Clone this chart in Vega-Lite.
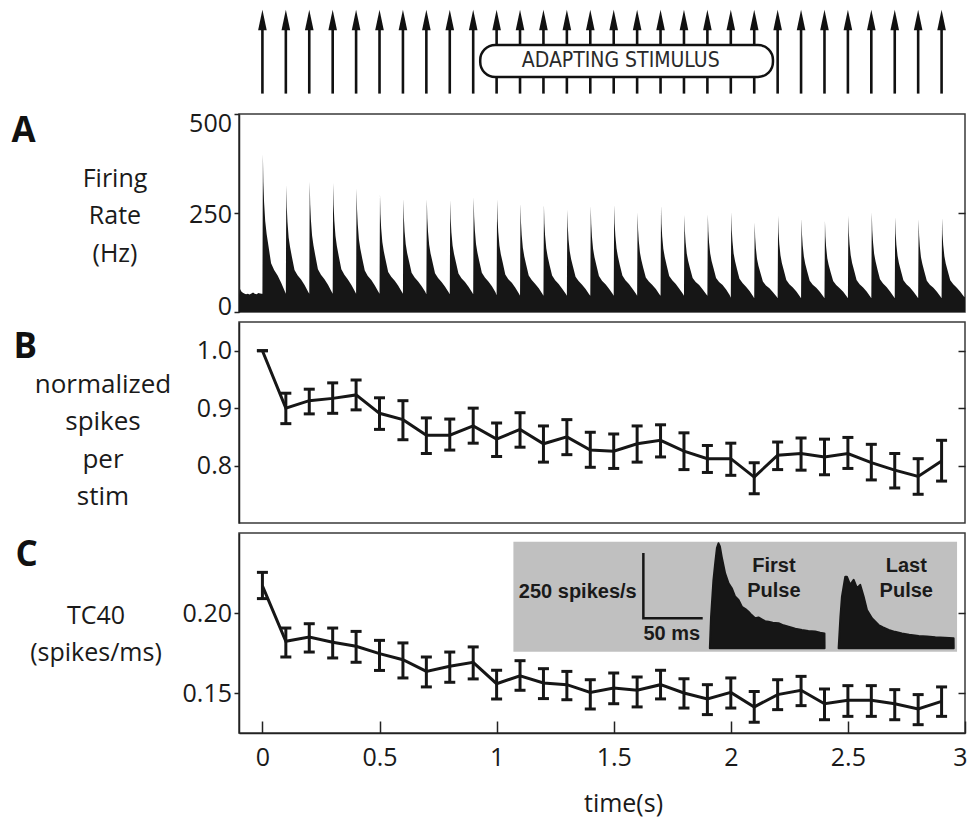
{
  "$schema": "https://vega.github.io/schema/vega-lite/v6.json",
  "background": "white",
  "padding": {"left": 10, "top": 0, "right": 0, "bottom": 6},
  "spacing": 10,
  "bounds": "flush",
  "config": {
    "view": {"stroke": "#3a3a3a", "strokeWidth": 1.5},
    "font": "Open Sans",
    "axis": {
      "grid": false,
      "labelFlush": false,
      "domainColor": "#222",
      "domainWidth": 1.5,
      "tickColor": "#222",
      "tickWidth": 1.5,
      "labelFont": "Open Sans",
      "labelFontSize": 25,
      "labelColor": "#1a1a1a",
      "titleFont": "Open Sans",
      "titleFontSize": 25,
      "titleFontWeight": "normal",
      "titleColor": "#1a1a1a"
    },
    "axisY": {
      "tickSize": 5,
      "labelPadding": 2.5,
      "titleAngle": 0,
      "titleAlign": "center",
      "titleBaseline": "alphabetic",
      "titleLineHeight": 37.5
    },
    "title": {
      "font": "Open Sans",
      "fontSize": 35,
      "fontWeight": "bold",
      "color": "#111",
      "anchor": "start",
      "frame": "group",
      "offset": 0
    }
  },
  "datasets": {
    "stimuli": [
      {"t": 0}, {"t": 0.1}, {"t": 0.2}, {"t": 0.3}, {"t": 0.4}, {"t": 0.5}, {"t": 0.6}, {"t": 0.7}, {"t": 0.8}, {"t": 0.9},
      {"t": 1.0}, {"t": 1.1}, {"t": 1.2}, {"t": 1.3}, {"t": 1.4}, {"t": 1.5}, {"t": 1.6}, {"t": 1.7}, {"t": 1.8}, {"t": 1.9},
      {"t": 2.0}, {"t": 2.1}, {"t": 2.2}, {"t": 2.3}, {"t": 2.4}, {"t": 2.5}, {"t": 2.6}, {"t": 2.7}, {"t": 2.8}, {"t": 2.9}
    ],
    "adapting": [{"label": "ADAPTING STIMULUS", "start": 0.93, "end": 2.18}],
    "psth": [
      {"t": -0.1, "hz": 42}, {"t": -0.097, "hz": 48}, {"t": -0.094, "hz": 58}, {"t": -0.09, "hz": 52}, {"t": -0.085, "hz": 49}, {"t": -0.078, "hz": 47}, {"t": -0.07, "hz": 45}, {"t": -0.062, "hz": 46}, {"t": -0.055, "hz": 44}, {"t": -0.047, "hz": 47}, {"t": -0.04, "hz": 49}, {"t": -0.033, "hz": 46}, {"t": -0.025, "hz": 45}, {"t": -0.017, "hz": 48}, {"t": -0.01, "hz": 47}, {"t": -0.003, "hz": 46},
      {"t": 0, "hz": 46}, {"t": 0.002, "hz": 398}, {"t": 0.004, "hz": 328}, {"t": 0.007, "hz": 278}, {"t": 0.012, "hz": 229}, {"t": 0.018, "hz": 197}, {"t": 0.026, "hz": 166}, {"t": 0.037, "hz": 123}, {"t": 0.05, "hz": 106}, {"t": 0.065, "hz": 92}, {"t": 0.08, "hz": 74}, {"t": 0.095, "hz": 53},
      {"t": 0.1, "hz": 46}, {"t": 0.102, "hz": 320}, {"t": 0.104, "hz": 265}, {"t": 0.107, "hz": 227}, {"t": 0.112, "hz": 188}, {"t": 0.118, "hz": 164}, {"t": 0.126, "hz": 139}, {"t": 0.137, "hz": 106}, {"t": 0.15, "hz": 93}, {"t": 0.165, "hz": 82}, {"t": 0.18, "hz": 68}, {"t": 0.195, "hz": 51},
      {"t": 0.2, "hz": 46}, {"t": 0.202, "hz": 329}, {"t": 0.204, "hz": 272}, {"t": 0.207, "hz": 233}, {"t": 0.212, "hz": 193}, {"t": 0.218, "hz": 168}, {"t": 0.226, "hz": 142}, {"t": 0.237, "hz": 108}, {"t": 0.25, "hz": 94}, {"t": 0.265, "hz": 83}, {"t": 0.28, "hz": 69}, {"t": 0.295, "hz": 52},
      {"t": 0.3, "hz": 46}, {"t": 0.302, "hz": 326}, {"t": 0.304, "hz": 270}, {"t": 0.307, "hz": 231}, {"t": 0.312, "hz": 192}, {"t": 0.318, "hz": 166}, {"t": 0.326, "hz": 141}, {"t": 0.337, "hz": 108}, {"t": 0.35, "hz": 94}, {"t": 0.365, "hz": 82}, {"t": 0.38, "hz": 68}, {"t": 0.395, "hz": 52},
      {"t": 0.4, "hz": 46}, {"t": 0.402, "hz": 312}, {"t": 0.404, "hz": 259}, {"t": 0.407, "hz": 222}, {"t": 0.412, "hz": 184}, {"t": 0.418, "hz": 160}, {"t": 0.426, "hz": 136}, {"t": 0.437, "hz": 105}, {"t": 0.45, "hz": 91}, {"t": 0.465, "hz": 81}, {"t": 0.48, "hz": 67}, {"t": 0.495, "hz": 51},
      {"t": 0.5, "hz": 46}, {"t": 0.502, "hz": 297}, {"t": 0.504, "hz": 247}, {"t": 0.507, "hz": 212}, {"t": 0.512, "hz": 177}, {"t": 0.518, "hz": 154}, {"t": 0.526, "hz": 131}, {"t": 0.537, "hz": 101}, {"t": 0.55, "hz": 89}, {"t": 0.565, "hz": 79}, {"t": 0.58, "hz": 66}, {"t": 0.595, "hz": 51},
      {"t": 0.6, "hz": 46}, {"t": 0.602, "hz": 286}, {"t": 0.604, "hz": 238}, {"t": 0.607, "hz": 204}, {"t": 0.612, "hz": 171}, {"t": 0.618, "hz": 149}, {"t": 0.626, "hz": 128}, {"t": 0.637, "hz": 99}, {"t": 0.65, "hz": 87}, {"t": 0.665, "hz": 77}, {"t": 0.68, "hz": 65}, {"t": 0.695, "hz": 51},
      {"t": 0.7, "hz": 45}, {"t": 0.702, "hz": 285}, {"t": 0.704, "hz": 237}, {"t": 0.707, "hz": 203}, {"t": 0.712, "hz": 170}, {"t": 0.718, "hz": 148}, {"t": 0.726, "hz": 127}, {"t": 0.737, "hz": 98}, {"t": 0.75, "hz": 86}, {"t": 0.765, "hz": 76}, {"t": 0.78, "hz": 64}, {"t": 0.795, "hz": 50},
      {"t": 0.8, "hz": 45}, {"t": 0.802, "hz": 282}, {"t": 0.804, "hz": 235}, {"t": 0.807, "hz": 201}, {"t": 0.812, "hz": 168}, {"t": 0.818, "hz": 147}, {"t": 0.826, "hz": 126}, {"t": 0.837, "hz": 97}, {"t": 0.85, "hz": 85}, {"t": 0.865, "hz": 76}, {"t": 0.88, "hz": 64}, {"t": 0.895, "hz": 50},
      {"t": 0.9, "hz": 45}, {"t": 0.902, "hz": 290}, {"t": 0.904, "hz": 241}, {"t": 0.907, "hz": 207}, {"t": 0.912, "hz": 172}, {"t": 0.918, "hz": 150}, {"t": 0.926, "hz": 128}, {"t": 0.937, "hz": 99}, {"t": 0.95, "hz": 87}, {"t": 0.965, "hz": 77}, {"t": 0.98, "hz": 65}, {"t": 0.995, "hz": 50},
      {"t": 1.0, "hz": 42}, {"t": 1.002, "hz": 285}, {"t": 1.004, "hz": 236}, {"t": 1.007, "hz": 202}, {"t": 1.012, "hz": 168}, {"t": 1.018, "hz": 146}, {"t": 1.026, "hz": 125}, {"t": 1.037, "hz": 95}, {"t": 1.05, "hz": 83}, {"t": 1.065, "hz": 74}, {"t": 1.08, "hz": 61}, {"t": 1.095, "hz": 47},
      {"t": 1.1, "hz": 41}, {"t": 1.102, "hz": 274}, {"t": 1.104, "hz": 227}, {"t": 1.107, "hz": 195}, {"t": 1.112, "hz": 162}, {"t": 1.118, "hz": 141}, {"t": 1.126, "hz": 120}, {"t": 1.137, "hz": 92}, {"t": 1.15, "hz": 81}, {"t": 1.165, "hz": 71}, {"t": 1.18, "hz": 60}, {"t": 1.195, "hz": 46},
      {"t": 1.2, "hz": 41}, {"t": 1.202, "hz": 271}, {"t": 1.204, "hz": 225}, {"t": 1.207, "hz": 193}, {"t": 1.212, "hz": 161}, {"t": 1.218, "hz": 140}, {"t": 1.226, "hz": 119}, {"t": 1.237, "hz": 92}, {"t": 1.25, "hz": 80}, {"t": 1.265, "hz": 71}, {"t": 1.28, "hz": 59}, {"t": 1.295, "hz": 46},
      {"t": 1.3, "hz": 41}, {"t": 1.302, "hz": 258}, {"t": 1.304, "hz": 215}, {"t": 1.307, "hz": 184}, {"t": 1.312, "hz": 154}, {"t": 1.318, "hz": 134}, {"t": 1.326, "hz": 115}, {"t": 1.337, "hz": 89}, {"t": 1.35, "hz": 78}, {"t": 1.365, "hz": 69}, {"t": 1.38, "hz": 58}, {"t": 1.395, "hz": 45},
      {"t": 1.4, "hz": 41}, {"t": 1.402, "hz": 267}, {"t": 1.404, "hz": 222}, {"t": 1.407, "hz": 190}, {"t": 1.412, "hz": 159}, {"t": 1.418, "hz": 138}, {"t": 1.426, "hz": 118}, {"t": 1.437, "hz": 91}, {"t": 1.45, "hz": 79}, {"t": 1.465, "hz": 70}, {"t": 1.48, "hz": 59}, {"t": 1.495, "hz": 46},
      {"t": 1.5, "hz": 41}, {"t": 1.502, "hz": 271}, {"t": 1.504, "hz": 225}, {"t": 1.507, "hz": 193}, {"t": 1.512, "hz": 161}, {"t": 1.518, "hz": 140}, {"t": 1.526, "hz": 119}, {"t": 1.537, "hz": 92}, {"t": 1.55, "hz": 80}, {"t": 1.565, "hz": 71}, {"t": 1.58, "hz": 59}, {"t": 1.595, "hz": 46},
      {"t": 1.6, "hz": 41}, {"t": 1.602, "hz": 251}, {"t": 1.604, "hz": 209}, {"t": 1.607, "hz": 180}, {"t": 1.612, "hz": 150}, {"t": 1.618, "hz": 131}, {"t": 1.626, "hz": 112}, {"t": 1.637, "hz": 87}, {"t": 1.65, "hz": 77}, {"t": 1.665, "hz": 68}, {"t": 1.68, "hz": 58}, {"t": 1.695, "hz": 45},
      {"t": 1.7, "hz": 41}, {"t": 1.702, "hz": 268}, {"t": 1.704, "hz": 223}, {"t": 1.707, "hz": 191}, {"t": 1.712, "hz": 159}, {"t": 1.718, "hz": 139}, {"t": 1.726, "hz": 118}, {"t": 1.737, "hz": 91}, {"t": 1.75, "hz": 80}, {"t": 1.765, "hz": 71}, {"t": 1.78, "hz": 59}, {"t": 1.795, "hz": 46},
      {"t": 1.8, "hz": 41}, {"t": 1.802, "hz": 245}, {"t": 1.804, "hz": 204}, {"t": 1.807, "hz": 176}, {"t": 1.812, "hz": 147}, {"t": 1.818, "hz": 129}, {"t": 1.826, "hz": 110}, {"t": 1.837, "hz": 86}, {"t": 1.85, "hz": 76}, {"t": 1.865, "hz": 68}, {"t": 1.88, "hz": 57}, {"t": 1.895, "hz": 45},
      {"t": 1.9, "hz": 41}, {"t": 1.902, "hz": 246}, {"t": 1.904, "hz": 205}, {"t": 1.907, "hz": 176}, {"t": 1.912, "hz": 148}, {"t": 1.918, "hz": 129}, {"t": 1.926, "hz": 111}, {"t": 1.937, "hz": 86}, {"t": 1.95, "hz": 76}, {"t": 1.965, "hz": 68}, {"t": 1.98, "hz": 57}, {"t": 1.995, "hz": 43},
      {"t": 2.0, "hz": 36}, {"t": 2.002, "hz": 252}, {"t": 2.004, "hz": 209}, {"t": 2.007, "hz": 179}, {"t": 2.012, "hz": 148}, {"t": 2.018, "hz": 129}, {"t": 2.026, "hz": 109}, {"t": 2.037, "hz": 84}, {"t": 2.05, "hz": 73}, {"t": 2.065, "hz": 64}, {"t": 2.08, "hz": 53}, {"t": 2.095, "hz": 40},
      {"t": 2.1, "hz": 35}, {"t": 2.102, "hz": 226}, {"t": 2.104, "hz": 188}, {"t": 2.107, "hz": 161}, {"t": 2.112, "hz": 134}, {"t": 2.118, "hz": 117}, {"t": 2.126, "hz": 100}, {"t": 2.137, "hz": 77}, {"t": 2.15, "hz": 67}, {"t": 2.165, "hz": 60}, {"t": 2.18, "hz": 50}, {"t": 2.195, "hz": 39},
      {"t": 2.2, "hz": 35}, {"t": 2.202, "hz": 243}, {"t": 2.204, "hz": 201}, {"t": 2.207, "hz": 172}, {"t": 2.212, "hz": 143}, {"t": 2.218, "hz": 124}, {"t": 2.226, "hz": 106}, {"t": 2.237, "hz": 81}, {"t": 2.25, "hz": 70}, {"t": 2.265, "hz": 62}, {"t": 2.28, "hz": 52}, {"t": 2.295, "hz": 39},
      {"t": 2.3, "hz": 35}, {"t": 2.302, "hz": 236}, {"t": 2.304, "hz": 196}, {"t": 2.307, "hz": 168}, {"t": 2.312, "hz": 140}, {"t": 2.318, "hz": 121}, {"t": 2.326, "hz": 103}, {"t": 2.337, "hz": 79}, {"t": 2.35, "hz": 69}, {"t": 2.365, "hz": 61}, {"t": 2.38, "hz": 51}, {"t": 2.395, "hz": 39},
      {"t": 2.4, "hz": 35}, {"t": 2.402, "hz": 230}, {"t": 2.404, "hz": 191}, {"t": 2.407, "hz": 164}, {"t": 2.412, "hz": 136}, {"t": 2.418, "hz": 119}, {"t": 2.426, "hz": 101}, {"t": 2.437, "hz": 78}, {"t": 2.45, "hz": 68}, {"t": 2.465, "hz": 60}, {"t": 2.48, "hz": 51}, {"t": 2.495, "hz": 39},
      {"t": 2.5, "hz": 35}, {"t": 2.502, "hz": 243}, {"t": 2.504, "hz": 201}, {"t": 2.507, "hz": 172}, {"t": 2.512, "hz": 143}, {"t": 2.518, "hz": 124}, {"t": 2.526, "hz": 106}, {"t": 2.537, "hz": 81}, {"t": 2.55, "hz": 70}, {"t": 2.565, "hz": 62}, {"t": 2.58, "hz": 52}, {"t": 2.595, "hz": 39},
      {"t": 2.6, "hz": 35}, {"t": 2.602, "hz": 251}, {"t": 2.604, "hz": 208}, {"t": 2.607, "hz": 178}, {"t": 2.612, "hz": 147}, {"t": 2.618, "hz": 128}, {"t": 2.626, "hz": 108}, {"t": 2.637, "hz": 83}, {"t": 2.65, "hz": 72}, {"t": 2.665, "hz": 63}, {"t": 2.68, "hz": 52}, {"t": 2.695, "hz": 39},
      {"t": 2.7, "hz": 35}, {"t": 2.702, "hz": 240}, {"t": 2.704, "hz": 199}, {"t": 2.707, "hz": 170}, {"t": 2.712, "hz": 142}, {"t": 2.718, "hz": 123}, {"t": 2.726, "hz": 105}, {"t": 2.737, "hz": 80}, {"t": 2.75, "hz": 70}, {"t": 2.765, "hz": 62}, {"t": 2.78, "hz": 51}, {"t": 2.795, "hz": 39},
      {"t": 2.8, "hz": 35}, {"t": 2.802, "hz": 234}, {"t": 2.804, "hz": 194}, {"t": 2.807, "hz": 166}, {"t": 2.812, "hz": 138}, {"t": 2.818, "hz": 121}, {"t": 2.826, "hz": 103}, {"t": 2.837, "hz": 79}, {"t": 2.85, "hz": 69}, {"t": 2.865, "hz": 61}, {"t": 2.88, "hz": 51}, {"t": 2.895, "hz": 39},
      {"t": 2.9, "hz": 35}, {"t": 2.902, "hz": 238}, {"t": 2.904, "hz": 197}, {"t": 2.907, "hz": 169}, {"t": 2.912, "hz": 141}, {"t": 2.918, "hz": 122}, {"t": 2.926, "hz": 104}, {"t": 2.937, "hz": 80}, {"t": 2.95, "hz": 70}, {"t": 2.965, "hz": 61}, {"t": 2.98, "hz": 51}, {"t": 2.995, "hz": 39},
      {"t": 3.0, "hz": 37}
    ],
    "spikes": [
      {"t": 0, "m": 1.0, "lo": 1.0, "hi": 1.0},
      {"t": 0.1, "m": 0.9, "lo": 0.873, "hi": 0.926},
      {"t": 0.2, "m": 0.913, "lo": 0.89, "hi": 0.933},
      {"t": 0.3, "m": 0.917, "lo": 0.891, "hi": 0.944},
      {"t": 0.4, "m": 0.923, "lo": 0.897, "hi": 0.949},
      {"t": 0.5, "m": 0.891, "lo": 0.863, "hi": 0.918},
      {"t": 0.6, "m": 0.88, "lo": 0.845, "hi": 0.913},
      {"t": 0.7, "m": 0.853, "lo": 0.821, "hi": 0.883},
      {"t": 0.8, "m": 0.853, "lo": 0.827, "hi": 0.881},
      {"t": 0.9, "m": 0.869, "lo": 0.839, "hi": 0.9},
      {"t": 1.0, "m": 0.846, "lo": 0.816, "hi": 0.874},
      {"t": 1.1, "m": 0.863, "lo": 0.832, "hi": 0.892},
      {"t": 1.2, "m": 0.838, "lo": 0.806, "hi": 0.869},
      {"t": 1.3, "m": 0.85, "lo": 0.819, "hi": 0.88},
      {"t": 1.4, "m": 0.827, "lo": 0.797, "hi": 0.858},
      {"t": 1.5, "m": 0.825, "lo": 0.795, "hi": 0.855},
      {"t": 1.6, "m": 0.838, "lo": 0.806, "hi": 0.869},
      {"t": 1.7, "m": 0.844, "lo": 0.815, "hi": 0.871},
      {"t": 1.8, "m": 0.825, "lo": 0.793, "hi": 0.857},
      {"t": 1.9, "m": 0.812, "lo": 0.788, "hi": 0.835},
      {"t": 2.0, "m": 0.812, "lo": 0.783, "hi": 0.839},
      {"t": 2.1, "m": 0.78, "lo": 0.751, "hi": 0.805},
      {"t": 2.2, "m": 0.818, "lo": 0.793, "hi": 0.841},
      {"t": 2.3, "m": 0.821, "lo": 0.792, "hi": 0.848},
      {"t": 2.4, "m": 0.815, "lo": 0.784, "hi": 0.846},
      {"t": 2.5, "m": 0.821, "lo": 0.795, "hi": 0.849},
      {"t": 2.6, "m": 0.805, "lo": 0.775, "hi": 0.837},
      {"t": 2.7, "m": 0.792, "lo": 0.761, "hi": 0.821},
      {"t": 2.8, "m": 0.781, "lo": 0.75, "hi": 0.812},
      {"t": 2.9, "m": 0.808, "lo": 0.773, "hi": 0.844}
    ],
    "tc40": [
      {"t": 0, "m": 0.217, "lo": 0.209, "hi": 0.2254},
      {"t": 0.1, "m": 0.1823, "lo": 0.1725, "hi": 0.1906},
      {"t": 0.2, "m": 0.185, "lo": 0.1756, "hi": 0.1933},
      {"t": 0.3, "m": 0.1817, "lo": 0.1719, "hi": 0.1906},
      {"t": 0.4, "m": 0.1792, "lo": 0.1692, "hi": 0.1885},
      {"t": 0.5, "m": 0.1746, "lo": 0.1641, "hi": 0.1829},
      {"t": 0.6, "m": 0.1708, "lo": 0.1594, "hi": 0.1813},
      {"t": 0.7, "m": 0.1635, "lo": 0.1538, "hi": 0.1725},
      {"t": 0.8, "m": 0.1667, "lo": 0.1567, "hi": 0.1756},
      {"t": 0.9, "m": 0.1692, "lo": 0.1588, "hi": 0.1788},
      {"t": 1.0, "m": 0.1558, "lo": 0.1463, "hi": 0.1642},
      {"t": 1.1, "m": 0.1608, "lo": 0.1517, "hi": 0.1702},
      {"t": 1.2, "m": 0.1563, "lo": 0.1465, "hi": 0.1652},
      {"t": 1.3, "m": 0.1552, "lo": 0.1458, "hi": 0.1635},
      {"t": 1.4, "m": 0.1504, "lo": 0.14, "hi": 0.1583},
      {"t": 1.5, "m": 0.1531, "lo": 0.1433, "hi": 0.1625},
      {"t": 1.6, "m": 0.1517, "lo": 0.1413, "hi": 0.16},
      {"t": 1.7, "m": 0.1552, "lo": 0.1463, "hi": 0.1642},
      {"t": 1.8, "m": 0.15, "lo": 0.1406, "hi": 0.1589},
      {"t": 1.9, "m": 0.1463, "lo": 0.1365, "hi": 0.1552},
      {"t": 2.0, "m": 0.1504, "lo": 0.1406, "hi": 0.1594},
      {"t": 2.1, "m": 0.1413, "lo": 0.1317, "hi": 0.151},
      {"t": 2.2, "m": 0.149, "lo": 0.1396, "hi": 0.1583},
      {"t": 2.3, "m": 0.1517, "lo": 0.1421, "hi": 0.1604},
      {"t": 2.4, "m": 0.1433, "lo": 0.1333, "hi": 0.1525},
      {"t": 2.5, "m": 0.1454, "lo": 0.1354, "hi": 0.1546},
      {"t": 2.6, "m": 0.1454, "lo": 0.1354, "hi": 0.1546},
      {"t": 2.7, "m": 0.1433, "lo": 0.1333, "hi": 0.1521},
      {"t": 2.8, "m": 0.14, "lo": 0.1302, "hi": 0.149},
      {"t": 2.9, "m": 0.1448, "lo": 0.1354, "hi": 0.1538}
    ],
    "pulses": [
      {"pulse": "first", "ms": 0, "rate": 0}, {"pulse": "first", "ms": 1, "rate": 120}, {"pulse": "first", "ms": 3, "rate": 260}, {"pulse": "first", "ms": 4.5, "rate": 326}, {"pulse": "first", "ms": 6, "rate": 385}, {"pulse": "first", "ms": 7.3, "rate": 402}, {"pulse": "first", "ms": 8.5, "rate": 390}, {"pulse": "first", "ms": 10, "rate": 351}, {"pulse": "first", "ms": 12.9, "rate": 287}, {"pulse": "first", "ms": 15.8, "rate": 249}, {"pulse": "first", "ms": 18.5, "rate": 230}, {"pulse": "first", "ms": 21.3, "rate": 198}, {"pulse": "first", "ms": 24.2, "rate": 185}, {"pulse": "first", "ms": 27, "rate": 159}, {"pulse": "first", "ms": 30, "rate": 150}, {"pulse": "first", "ms": 32.6, "rate": 140}, {"pulse": "first", "ms": 35, "rate": 128}, {"pulse": "first", "ms": 38.2, "rate": 115}, {"pulse": "first", "ms": 41, "rate": 118}, {"pulse": "first", "ms": 43.8, "rate": 111}, {"pulse": "first", "ms": 46.5, "rate": 104}, {"pulse": "first", "ms": 49.5, "rate": 102}, {"pulse": "first", "ms": 53, "rate": 98}, {"pulse": "first", "ms": 57.9, "rate": 96}, {"pulse": "first", "ms": 62, "rate": 88}, {"pulse": "first", "ms": 66.3, "rate": 83}, {"pulse": "first", "ms": 72, "rate": 75}, {"pulse": "first", "ms": 77.6, "rate": 70}, {"pulse": "first", "ms": 83, "rate": 66}, {"pulse": "first", "ms": 88.8, "rate": 64}, {"pulse": "first", "ms": 93, "rate": 60}, {"pulse": "first", "ms": 96.6, "rate": 57}, {"pulse": "first", "ms": 96.7, "rate": 0},
      {"pulse": "last", "ms": 108.5, "rate": 0}, {"pulse": "last", "ms": 110, "rate": 120}, {"pulse": "last", "ms": 111.3, "rate": 198}, {"pulse": "last", "ms": 114.1, "rate": 274}, {"pulse": "last", "ms": 115.5, "rate": 274}, {"pulse": "last", "ms": 118.3, "rate": 243}, {"pulse": "last", "ms": 121.2, "rate": 262}, {"pulse": "last", "ms": 124, "rate": 230}, {"pulse": "last", "ms": 126.7, "rate": 243}, {"pulse": "last", "ms": 129.6, "rate": 198}, {"pulse": "last", "ms": 132.4, "rate": 147}, {"pulse": "last", "ms": 136.6, "rate": 115}, {"pulse": "last", "ms": 142.2, "rate": 89}, {"pulse": "last", "ms": 146, "rate": 80}, {"pulse": "last", "ms": 150.7, "rate": 70}, {"pulse": "last", "ms": 156, "rate": 63}, {"pulse": "last", "ms": 161.9, "rate": 57}, {"pulse": "last", "ms": 168, "rate": 52}, {"pulse": "last", "ms": 176, "rate": 47}, {"pulse": "last", "ms": 183, "rate": 45}, {"pulse": "last", "ms": 190, "rate": 42}, {"pulse": "last", "ms": 198, "rate": 40}, {"pulse": "last", "ms": 205.4, "rate": 38}, {"pulse": "last", "ms": 205.5, "rate": 0}
    ],
    "scalebar": [
      {"i": 0, "ms": -56, "rate": 365},
      {"i": 1, "ms": -56, "rate": 115},
      {"i": 2, "ms": -6, "rate": 115}
    ],
    "insetLabelsRight": [
      {"label": "250 spikes/s", "ms": -61.6, "rate": 191}
    ],
    "insetLabelsCenter": [
      {"label": "50 ms", "ms": -32, "rate": 32},
      {"label": "First\nPulse", "ms": 54, "rate": 293},
      {"label": "Last\nPulse", "ms": 165.5, "rate": 293}
    ],
    "insetFrame": [
      {"ms0": -165.5, "ms1": 208.3, "rate0": -13, "rate1": 408}
    ]
  },
  "vconcat": [
    {
      "width": 726,
      "height": 104,
      "view": {"stroke": null},
      "layer": [
        {
          "data": {"name": "stimuli"},
          "mark": {"type": "rule", "strokeWidth": 2.6, "color": "#111"},
          "encoding": {
            "x": {"field": "t", "type": "quantitative", "scale": {"domain": [-0.1, 3], "nice": false}, "axis": null},
            "y": {"datum": 0.1, "type": "quantitative", "scale": {"domain": [0, 1], "nice": false}, "axis": null},
            "y2": {"datum": 0.8}
          }
        },
        {
          "data": {"name": "stimuli"},
          "mark": {"type": "point", "shape": "M0,-1L0.42,1L-0.42,1Z", "filled": true, "size": 420, "color": "#111", "opacity": 1},
          "encoding": {
            "x": {"field": "t", "type": "quantitative", "axis": null},
            "y": {"datum": 0.808, "type": "quantitative", "axis": null}
          }
        },
        {
          "data": {"name": "adapting"},
          "mark": {"type": "rect", "cornerRadius": 15, "fill": "white", "stroke": "#111", "strokeWidth": 2.5},
          "encoding": {
            "x": {"field": "start", "type": "quantitative", "axis": null},
            "x2": {"field": "end"},
            "y": {"datum": 0.567, "type": "quantitative", "axis": null},
            "y2": {"datum": 0.26}
          }
        },
        {
          "data": {"name": "adapting"},
          "mark": {"type": "text", "font": "DejaVu Sans Condensed, Liberation Sans Narrow, Open Sans", "fontSize": 21, "color": "#2a2a2a", "baseline": "middle", "align": "center"},
          "encoding": {
            "x": {"datum": 1.53, "type": "quantitative", "axis": null},
            "y": {"datum": 0.413, "type": "quantitative", "axis": null},
            "text": {"field": "label"}
          }
        }
      ]
    },
    {
      "width": 726,
      "height": 198,
      "title": {"text": "A", "dx": -227.5, "dy": 41.5},
      "layer": [
        {
          "data": {"name": "psth"},
          "mark": {"type": "area", "color": "#161616", "interpolate": "linear"},
          "encoding": {
            "x": {"field": "t", "type": "quantitative", "scale": {"domain": [-0.1, 3], "nice": false}, "axis": null},
            "y": {
              "field": "hz", "type": "quantitative",
              "scale": {"domain": [0, 500], "nice": false},
              "axis": {
                "orient": "left",
                "values": [0, 250, 500],
                "labelOffset": {"condition": [{"test": "datum.value == 500", "value": 9}, {"test": "datum.value == 0", "value": -5.5}], "value": 1.5},
                "title": ["Firing", "Rate", "(Hz)"],
                "titleX": -124.5,
                "titleY": 72
              }
            }
          }
        },
        {
          "data": {"values": [{}]},
          "mark": {"type": "rule", "opacity": 0},
          "encoding": {
            "y": {"datum": 250, "type": "quantitative", "axis": {"orient": "right", "values": [250], "labels": false, "domain": false, "tickSize": -7, "title": null}}
          }
        }
      ],
      "resolve": {"axis": {"y": "independent"}}
    },
    {
      "width": 726,
      "height": 201,
      "title": {"text": "B", "dx": -225.5, "dy": 47},
      "layer": [
        {
          "data": {"name": "spikes"},
          "mark": {"type": "rule", "strokeWidth": 3, "color": "#161616"},
          "encoding": {
            "x": {"field": "t", "type": "quantitative", "scale": {"domain": [-0.1, 3], "nice": false}, "axis": null},
            "y": {
              "field": "lo", "type": "quantitative",
              "scale": {"domain": [0.7, 1.05], "nice": false, "zero": false},
              "axis": {
                "orient": "left",
                "values": [0.8, 0.9, 1.0],
                "format": ".1f",
                "title": ["normalized", "spikes", "per", "stim"],
                "titleFontSize": 26,
                "titleX": -136.5,
                "titleY": 70
              }
            },
            "y2": {"field": "hi"}
          }
        },
        {
          "data": {"name": "spikes"},
          "mark": {"type": "tick", "orient": "horizontal", "size": 11, "thickness": 3, "color": "#161616", "opacity": 1},
          "encoding": {
            "x": {"field": "t", "type": "quantitative", "axis": null},
            "y": {"field": "lo", "type": "quantitative", "axis": null}
          }
        },
        {
          "data": {"name": "spikes"},
          "mark": {"type": "tick", "orient": "horizontal", "size": 11, "thickness": 3, "color": "#161616", "opacity": 1},
          "encoding": {
            "x": {"field": "t", "type": "quantitative", "axis": null},
            "y": {"field": "hi", "type": "quantitative", "axis": null}
          }
        },
        {
          "data": {"name": "spikes"},
          "mark": {"type": "line", "strokeWidth": 3, "color": "#161616"},
          "encoding": {
            "x": {"field": "t", "type": "quantitative", "axis": null},
            "y": {"field": "m", "type": "quantitative", "axis": null}
          }
        },
        {
          "data": {"values": [{}]},
          "mark": {"type": "rule", "opacity": 0},
          "encoding": {
            "y": {"datum": 0.9, "type": "quantitative", "axis": {"orient": "right", "values": [0.8, 0.9, 1.0], "labels": false, "domain": false, "tickSize": -7, "title": null}}
          }
        }
      ],
      "resolve": {"axis": {"y": "independent"}}
    },
    {
      "width": 726,
      "height": 200,
      "title": {"text": "C", "dx": -223.5, "dy": 43.5},
      "layer": [
        {
          "layer": [
            {
              "data": {"name": "tc40"},
              "mark": {"type": "rule", "strokeWidth": 3, "color": "#161616"},
              "encoding": {
                "x": {"field": "t", "type": "quantitative", "scale": {"domain": [-0.1, 3], "nice": false}, "axis": null},
                "y": {
                  "field": "lo", "type": "quantitative",
                  "scale": {"domain": [0.125, 0.25], "nice": false, "zero": false},
                  "axis": {
                    "orient": "left",
                    "values": [0.15, 0.2],
                    "format": ".2f",
                    "title": ["TC40", "(spikes/ms)"],
                    "titleX": -143.5,
                    "titleY": 90
                  }
                },
                "y2": {"field": "hi"}
              }
            },
            {
              "data": {"name": "tc40"},
              "mark": {"type": "tick", "orient": "horizontal", "size": 11, "thickness": 3, "color": "#161616", "opacity": 1},
              "encoding": {
                "x": {"field": "t", "type": "quantitative", "axis": null},
                "y": {"field": "lo", "type": "quantitative", "axis": null}
              }
            },
            {
              "data": {"name": "tc40"},
              "mark": {"type": "tick", "orient": "horizontal", "size": 11, "thickness": 3, "color": "#161616", "opacity": 1},
              "encoding": {
                "x": {"field": "t", "type": "quantitative", "axis": null},
                "y": {"field": "hi", "type": "quantitative", "axis": null}
              }
            },
            {
              "data": {"name": "tc40"},
              "mark": {"type": "line", "strokeWidth": 3, "color": "#161616"},
              "encoding": {
                "x": {"field": "t", "type": "quantitative", "axis": null},
                "y": {"field": "m", "type": "quantitative", "axis": null}
              }
            },
            {
              "data": {"values": [{}]},
              "mark": {"type": "rule", "opacity": 0},
              "encoding": {
                "y": {"datum": 0.2, "type": "quantitative", "axis": {"orient": "right", "values": [0.15, 0.2], "labels": false, "domain": false, "tickSize": -7, "title": null}}
              }
            }
          ],
          "resolve": {"axis": {"y": "independent"}}
        },
        {
          "layer": [
            {
              "data": {"name": "insetFrame"},
              "mark": {"type": "rect", "fill": "#c0c0c0"},
              "encoding": {
                "x": {"field": "ms0", "type": "quantitative", "scale": {"domain": [-396.7, 215.0], "nice": false, "zero": false}, "axis": null},
                "x2": {"field": "ms1"},
                "y": {"field": "rate0", "type": "quantitative", "scale": {"domain": [-324.3, 441.4], "nice": false, "zero": false}, "axis": null},
                "y2": {"field": "rate1"}
              }
            },
            {
              "data": {"name": "scalebar"},
              "mark": {"type": "line", "strokeWidth": 2.5, "color": "#161616", "strokeCap": "butt"},
              "encoding": {
                "x": {"field": "ms", "type": "quantitative", "axis": null},
                "y": {"field": "rate", "type": "quantitative", "axis": null},
                "order": {"field": "i"}
              }
            },
            {
              "data": {"name": "pulses"},
              "mark": {"type": "area", "color": "#161616", "stroke": "#161616", "strokeWidth": 2, "strokeJoin": "round", "interpolate": "linear"},
              "encoding": {
                "x": {"field": "ms", "type": "quantitative", "axis": null},
                "y": {"field": "rate", "type": "quantitative", "axis": null, "stack": null},
                "detail": {"field": "pulse"}
              }
            },
            {
              "data": {"name": "insetLabelsRight"},
              "mark": {"type": "text", "font": "Liberation Sans", "fontWeight": "bold", "fontSize": 20, "color": "#1a1a1a", "align": "right", "baseline": "alphabetic"},
              "encoding": {
                "x": {"field": "ms", "type": "quantitative", "axis": null},
                "y": {"field": "rate", "type": "quantitative", "axis": null},
                "text": {"field": "label"}
              }
            },
            {
              "data": {"name": "insetLabelsCenter"},
              "mark": {"type": "text", "font": "Liberation Sans", "fontWeight": "bold", "fontSize": 20, "color": "#1a1a1a", "align": "center", "baseline": "alphabetic", "lineBreak": "\n", "lineHeight": 25},
              "encoding": {
                "x": {"field": "ms", "type": "quantitative", "axis": null},
                "y": {"field": "rate", "type": "quantitative", "axis": null},
                "text": {"field": "label"}
              }
            }
          ]
        }
      ],
      "resolve": {"scale": {"x": "independent", "y": "independent"}}
    },
    {
      "width": 726,
      "height": 1,
      "view": {"stroke": null},
      "data": {"name": "tc40"},
      "mark": {"type": "rule", "opacity": 0},
      "encoding": {
        "x": {
          "field": "t", "type": "quantitative",
          "scale": {"domain": [-0.1, 3], "nice": false},
          "axis": {
            "orient": "bottom",
            "offset": -11,
            "values": [0, 0.5, 1, 1.5, 2, 2.5, 3],
            "format": "~g",
            "tickSize": -12,
            "labelPadding": 24.5,
            "labelFlush": true,
            "labelFlushOffset": 2,
            "title": "time(s)",
            "titleX": 384,
            "titlePadding": 21
          }
        }
      }
    }
  ]
}
